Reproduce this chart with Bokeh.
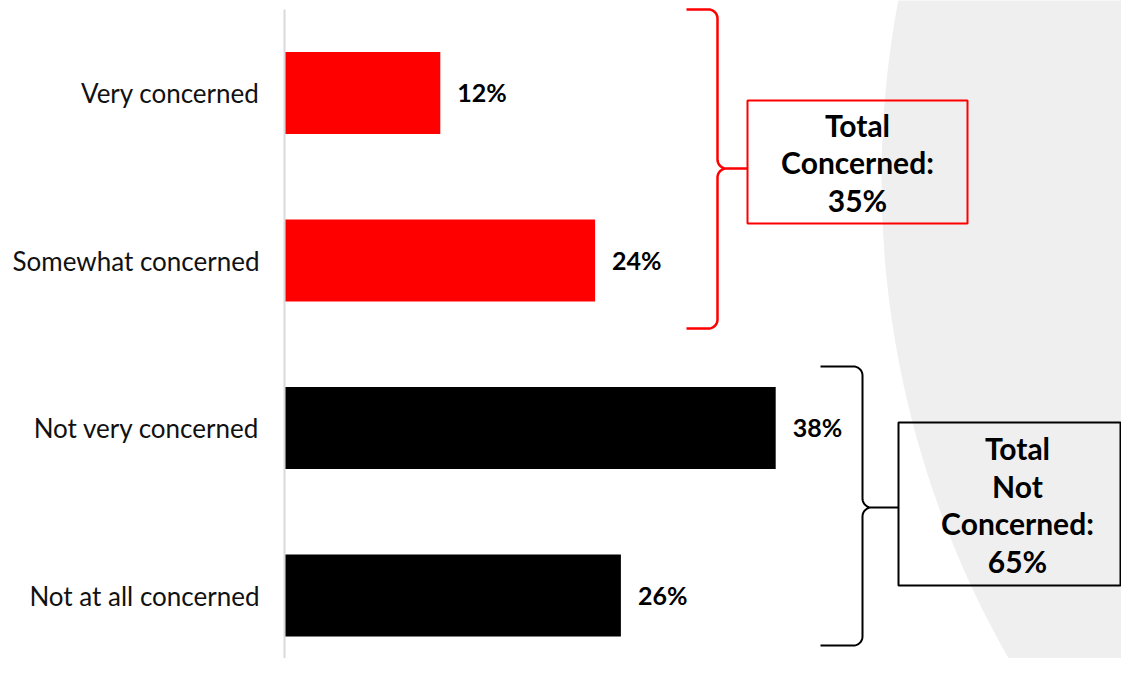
import numpy as np
from bokeh.plotting import figure
from bokeh.models import Range1d, FixedTicker, BoxAnnotation, ColumnDataSource
from bokeh.core.properties import value
from bokeh.embed import file_html
from bokeh.resources import INLINE

# ---- data ----
categories = ["Very concerned", "Somewhat concerned", "Not very concerned", "Not at all concerned"]
percent = [12, 24, 38, 26]
bar_colors = ["#ff0000", "#ff0000", "#000000", "#000000"]
group_titles = ["Total\nConcerned:\n35%", "Total\nNot\nConcerned:\n65%"]
group_colors = ["#ff0000", "#000000"]

# ---- layout constants (screen px) ----
W, H = 1121, 658
LEFT, TOP = 282, 0
X0 = 285                 # screen x of 0%
PX_X = 12.9              # px per percent
PX_Y = 167.5             # px per category
frame_w = W - LEFT
frame_h = H - TOP
n = len(categories)
ypos = [float(n - 1 - i) for i in range(n)]
y_top = (n - 1) + 92.5 / PX_Y
y_bot = y_top - frame_h / PX_Y
x_start = -(X0 - LEFT) / PX_X


def dx(sx):
    return (sx - X0) / PX_X


def dy(sy):
    return y_top - (sy - TOP) / PX_Y


p = figure(width=W, height=H, output_backend="svg", toolbar_location=None,
           x_range=Range1d(x_start, x_start + frame_w / PX_X), y_range=Range1d(y_bot, y_top),
           x_axis_location=None, min_border_left=LEFT, min_border_top=TOP,
           min_border_right=0, min_border_bottom=0)
p.outline_line_color = None
p.grid.visible = False
p.background_fill_color = "white"
p.border_fill_color = "white"

# light grey background arc
p.ellipse(x=[dx(1847)], y=[dy(179)], width=1932, height=1932,
          width_units="screen", height_units="screen",
          fill_color="#efefef", line_color=None)

# vertical base line (starts slightly below the top)
p.segment(x0=[dx(284)], x1=[dx(284)], y0=[dy(9)], y1=[y_bot],
          line_color="#d9d9d9", line_width=2)

src = ColumnDataSource(dict(y=ypos, v=percent, c=bar_colors,
                            t=[f"{v}%" for v in percent]))
p.hbar(y="y", left=0, right="v", height=0.49, fill_color="c", line_color=None, source=src)
p.text(x="v", y="y", text="t", source=src, x_offset=17, y_offset=-1,
       text_align="left", text_baseline="middle",
       text_font=value("Lato"), text_font_style="bold", text_font_size="25px",
       text_color="#000000")

# y axis with category labels
ax = p.yaxis[0]
ax.ticker = FixedTicker(ticks=ypos)
ax.major_label_overrides = {y: c for y, c in zip(ypos, categories)}
ax.major_tick_line_color = None
ax.minor_tick_line_color = None
ax.major_tick_out = 0
ax.major_tick_in = 0
ax.major_label_standoff = 23
ax.major_label_text_font = "Lato"
ax.major_label_text_font_size = "26px"
ax.major_label_text_color = "#111111"
ax.axis_line_color = None


def brace_px(xl, xv, xt, yt, yb, ym, r=9, k=12):
    xs, ys = [xl], [yt]
    th = np.linspace(np.pi / 2, 0, k)
    xs += list(xv - r + r * np.cos(th)); ys += list(yt + r - r * np.sin(th))
    th = np.linspace(np.pi, 1.5 * np.pi, k)
    xs += list(xv + r + r * np.cos(th)); ys += list(ym - r - r * np.sin(th))
    xs += [xt, xv + r]; ys += [ym, ym]
    th = np.linspace(np.pi / 2, np.pi, k)
    xs += list(xv + r + r * np.cos(th)); ys += list(ym + r - r * np.sin(th))
    th = np.linspace(0, -np.pi / 2, k)
    xs += list(xv - r + r * np.cos(th)); ys += list(yb - r - r * np.sin(th))
    xs += [xl]; ys += [yb]
    return [dx(v) for v in xs], [dy(v) for v in ys]


braces = [brace_px(686, 717, 747, 9, 328, 168), brace_px(820, 862, 898, 366, 645, 507)]
boxes = [(747, 967, 100, 223), (898, 1120, 422, 585)]
text_centers = [(857, 162), (1017, 504)]
widths = [2.5, 2]

for (bx, by), (l, r, t, b), (tx, ty), title, col, lw in zip(
        braces, boxes, text_centers, group_titles, group_colors, widths):
    p.line(bx, by, line_color=col, line_width=lw)
    p.add_layout(BoxAnnotation(left=dx(l), right=dx(r), top=dy(t), bottom=dy(b),
                               fill_alpha=0, line_color=col, line_width=2, line_alpha=1))
    p.text(x=[dx(tx)], y=[dy(ty)], text=[title], text_align="center",
           text_baseline="middle", text_line_height=1.05,
           text_font=value("Lato"), text_font_style="bold", text_font_size="30px",
           text_color="#000000")

open("out.html", "w").write(file_html(p, INLINE))
